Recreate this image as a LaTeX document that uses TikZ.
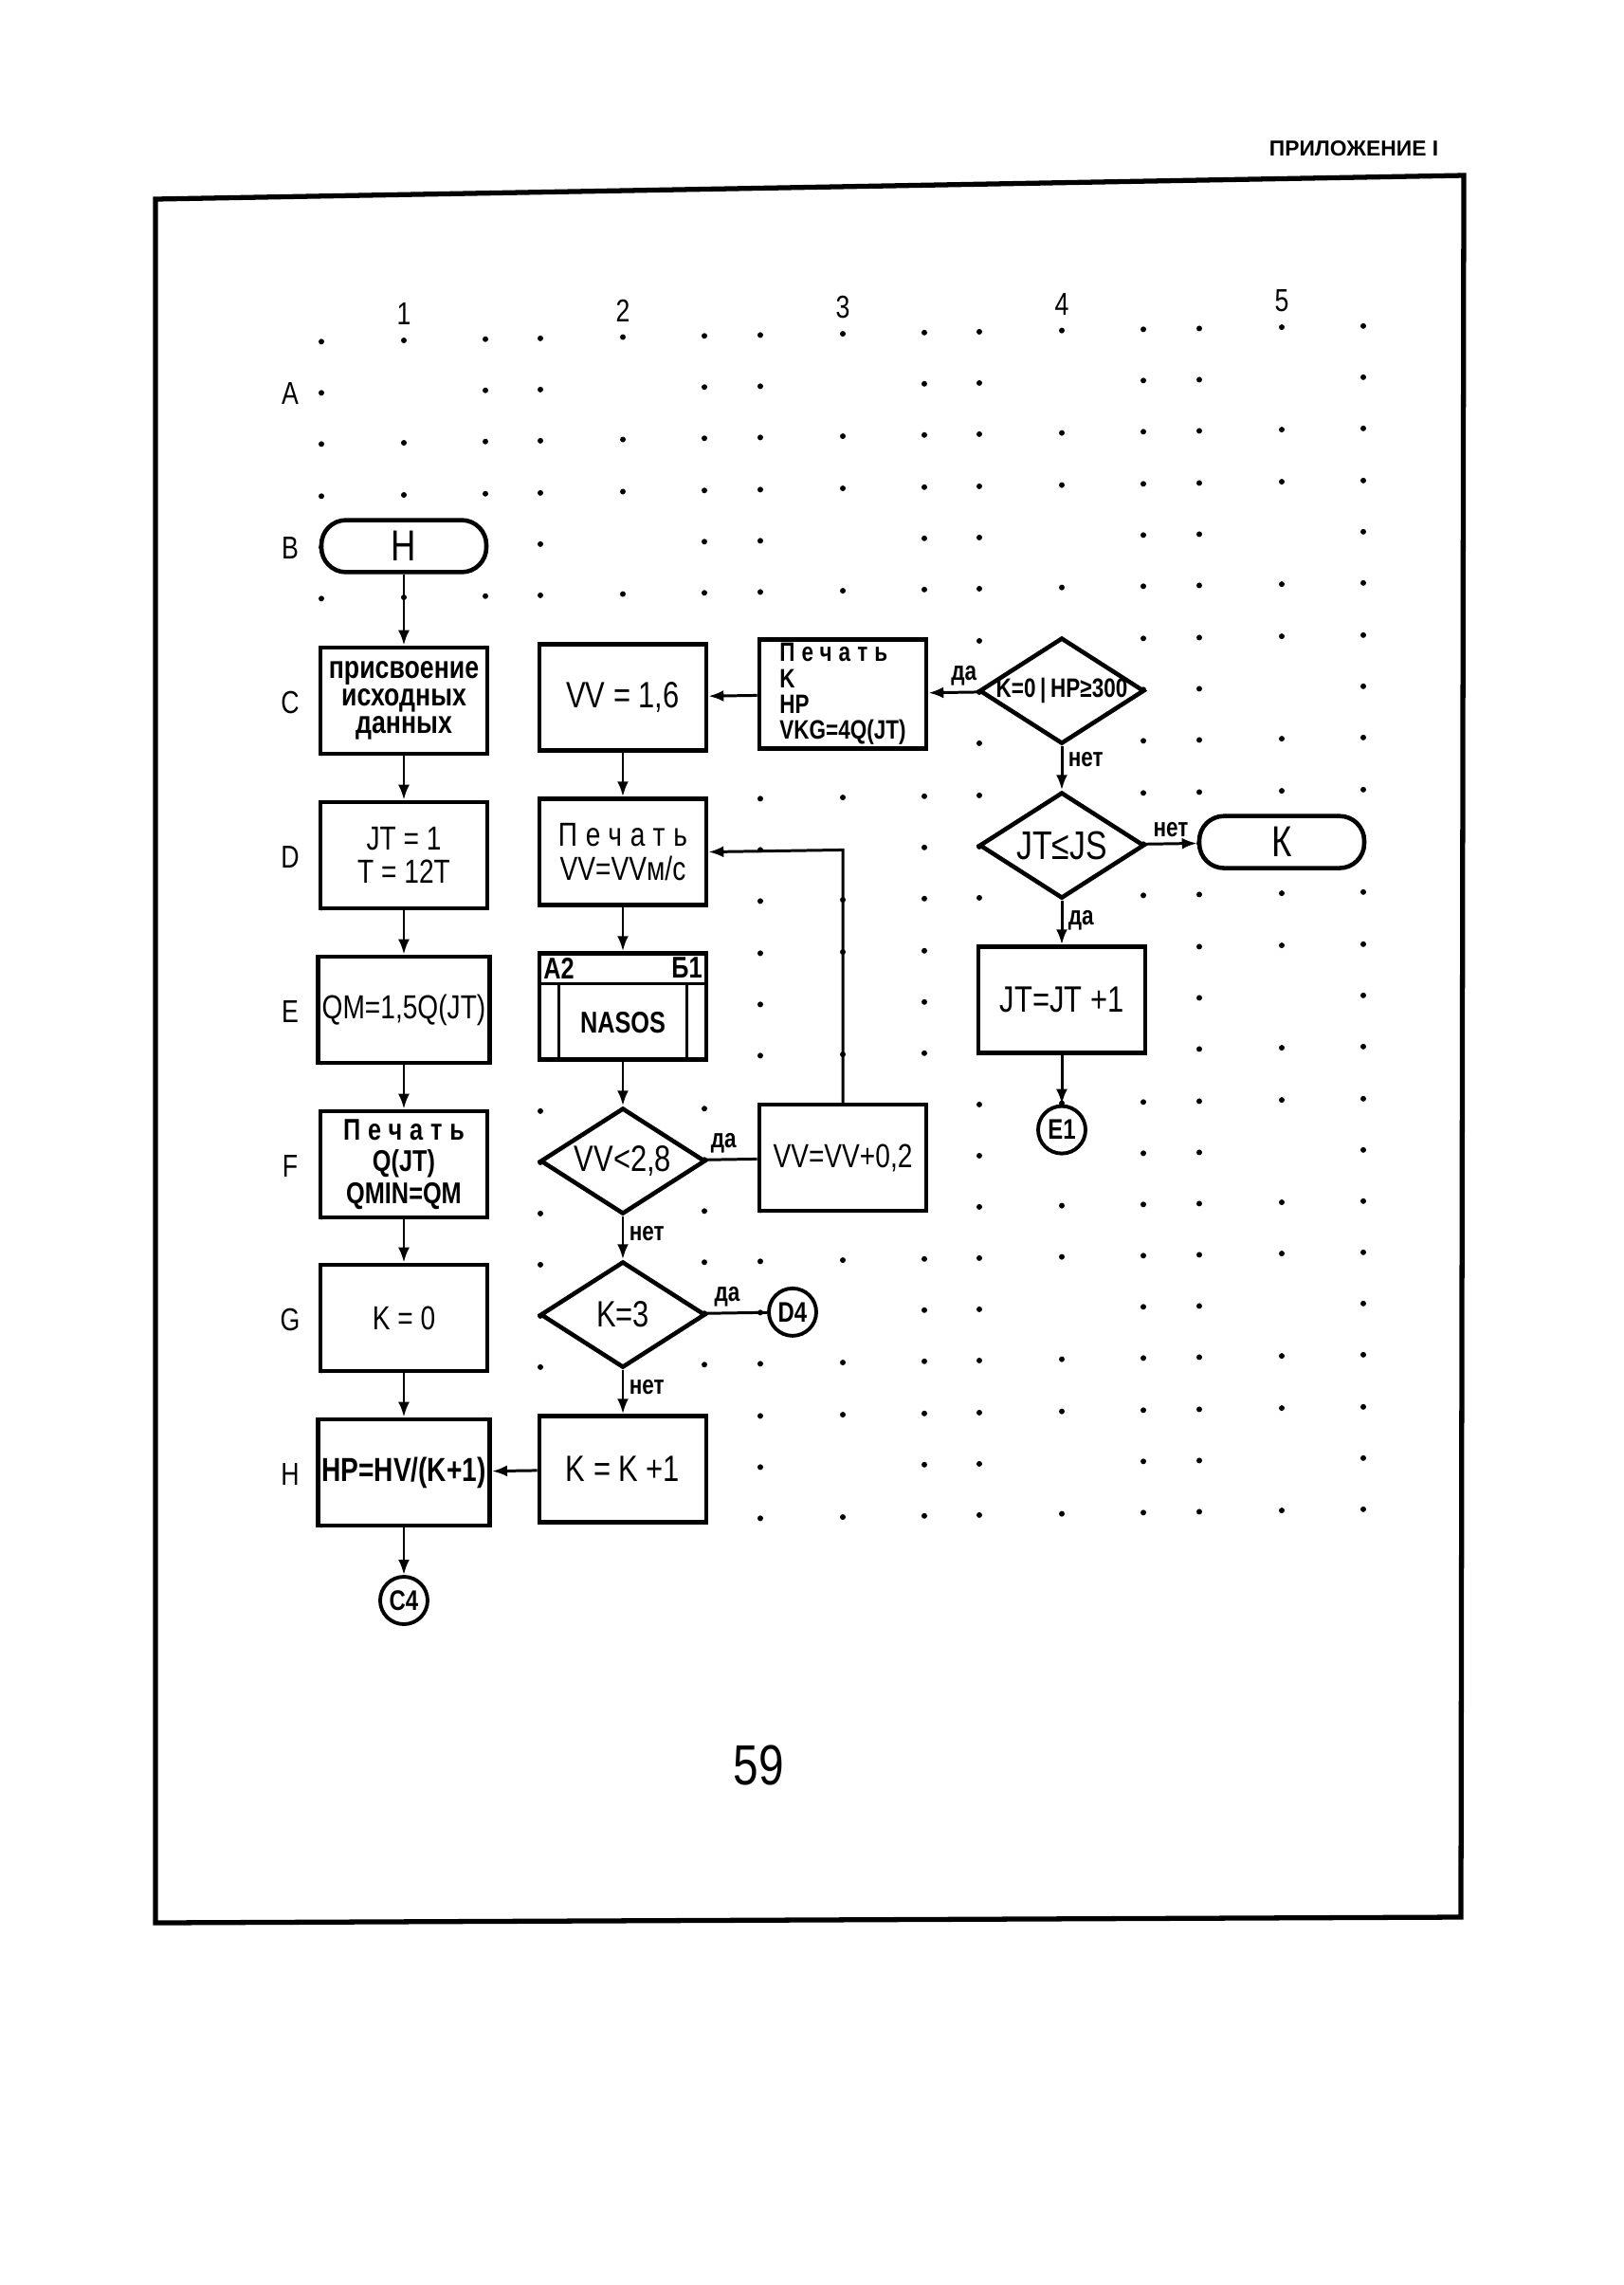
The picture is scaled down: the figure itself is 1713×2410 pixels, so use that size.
\documentclass[tikz,border=0pt]{standalone}
\usepackage{fontspec}
\setmainfont{Liberation Sans}[FakeStretch=0.8]
\newfontfamily\shapka{Liberation Sans}
\newfontfamily\razryadka{Liberation Sans}[FakeStretch=0.8, LetterSpace=25]
\usetikzlibrary{shapes.geometric, arrows.meta}

\begin{document}
\begin{tikzpicture}[x=0.1mm, y=-0.1mm,
    blok/.style={draw, rectangle, line width=1.3pt, fill=white, minimum width=17.6mm, minimum height=11.2mm, inner sep=0.4mm, align=center, font=\fontsize{10}{10}\selectfont},
    term/.style={draw, rectangle, rounded corners=2.6mm, line width=1.3pt, fill=white, minimum width=17.4mm, minimum height=5.2mm, font=\fontsize{13}{13}\selectfont},
    romb/.style={draw, diamond, line width=1.3pt, fill=white, minimum width=17.4mm, minimum height=11.2mm, inner sep=0pt, font=\fontsize{11}{11}\selectfont},
    krug/.style={draw, circle, line width=1.1pt, fill=white, minimum size=5mm, inner sep=0pt, font=\bfseries\fontsize{8.5}{8.5}\selectfont},
    svyaz/.style={line width=0.85pt, -{Latex[length=1.6mm, width=1.2mm]}},
    liniya/.style={line width=0.85pt},
    metka/.style={font=\bfseries\fontsize{8}{8}\selectfont, inner sep=1.5pt},
    nomer/.style={font=\fontsize{9.5}{9.5}\selectfont, inner sep=0pt}]
    \useasboundingbox (0,0) rectangle (1713,2410);

    % рамка листа
    \draw[line width=1.5pt] (164,210) -- (1544,185) -- (1541,2022) -- (164,2028) -- cycle;
    \node[font=\shapka\bfseries\fontsize{6.5}{6.5}\selectfont] (prilozh) at (1428,157) {ПРИЛОЖЕНИЕ I};
    \node[font=\fontsize{17}{17}\selectfont] (stranica) at (800,1862) {59};

    \begin{scope}[shift={(426,0)}, yslant=0.015, shift={(-426,0)}]
    % сетка точек
    \foreach \ry in {413,576,739,902,1065,1228,1390,1553}
      \foreach \sy in {-54,0,54}
        \foreach \cx in {426,657,889,1120,1352}
          \foreach \sx in {-87,0,86}
            {\pgfmathtruncatemacro\vid{(\sx!=0)||(\sy!=0)}
             \ifnum\vid=1 \fill (\cx+\sx,\ry+\sy) circle[radius=0.3mm];\fi}

    % номера столбцов и строк
    \foreach \cx/\n in {426/1,657/2,889/3,1120/4,1352/5}
      \node[nomer] (kol\n) at (\cx,331) {\n};
    \foreach \ry/\bukva in {413/A,576/B,739/C,902/D,1065/E,1228/F,1390/G,1553/H}
      \node[nomer] (str\bukva) at (306,\ry) {\bukva};

    % блоки
    \node[term] (nach) at (426,576) {Н};
    \node[blok, font=\bfseries\fontsize{9.5}{8.2}\selectfont] (prisv) at (426,739) {присвоение\\исходных\\данных};
    \node[blok] (jt1) at (426,902) {JT = 1\\T = 12T};
    \node[blok] (qm) at (426,1065) {QM=1,5Q(JT)};
    \node[blok, font=\bfseries\fontsize{9}{9.6}\selectfont] (pechQ) at (426,1228) {{\razryadka Печать}\\Q(JT)\\QMIN=QM};
    \node[blok] (k0) at (426,1390) {K = 0};
    \node[blok, font=\bfseries\fontsize{10}{10}\selectfont] (hp) at (426,1553) {HP=HV/(K+1)};
    \node[krug] (c4) at (426,1688) {C4};

    \node[blok, font=\fontsize{11}{11}\selectfont] (vv16) at (657,739) {VV = 1,6};
    \node[blok, font=\fontsize{10}{10.4}\selectfont] (pechVV) at (657,902) {{\razryadka Печать}\\VV=VVм/с};
    \node[blok] (nasos) at (657,1065) {};
    \node[romb] (vvmen) at (657,1228) {\makebox[0pt]{VV<2,8}};
    \node[romb] (k3) at (657,1390) {\makebox[0pt]{K=3}};
    \node[blok, font=\fontsize{11}{11}\selectfont] (kk1) at (657,1553) {K = K +1};

    \node[blok, align=left, font=\bfseries\fontsize{8}{7.8}\selectfont] (pechK) at (889,739) {{\razryadka Печать}\\K\\HP\\VKG=4Q(JT)};
    \node[blok] (vvinc) at (889,1228) {VV=VV+0,2};
    \node[krug] (d4) at (836,1390) {D4};

    \node[romb] (usl) at (1120,739) {\makebox[0pt]{\bfseries\fontsize{8}{8}\selectfont K=0\,|\,HP≥300}};
    \node[romb, font=\fontsize{12}{12}\selectfont] (jtjs) at (1120,902) {\makebox[0pt]{JT≤JS}};
    \node[blok, font=\fontsize{11}{11}\selectfont] (jtinc) at (1120,1065) {JT=JT +1};
    \node[krug] (e1) at (1120,1202) {E1};
    \node[term] (kon) at (1352,902) {К};

    % блок NASOS
    \draw[line width=1pt] ([yshift=-3.4mm]nasos.north west) -- ([yshift=-3.4mm]nasos.north east);
    \draw[line width=1pt] ([xshift=2.3mm, yshift=-3.4mm]nasos.north west) -- ([xshift=2.3mm]nasos.south west);
    \draw[line width=1pt] ([xshift=-2.3mm, yshift=-3.4mm]nasos.north east) -- ([xshift=-2.3mm]nasos.south east);
    \node[anchor=north west, inner sep=0.6mm, font=\bfseries\fontsize{9}{9}\selectfont] (nasA) at (nasos.north west) {А2};
    \node[anchor=north east, inner sep=0.6mm, font=\bfseries\fontsize{9}{9}\selectfont] (nasB) at (nasos.north east) {Б1};
    \node[font=\bfseries\fontsize{9}{9}\selectfont] (nasT) at ([yshift=-1.7mm]nasos.center) {NASOS};

    % связи
    \draw[svyaz] (nach) -- (prisv);
    \draw[svyaz] (prisv) -- (jt1);
    \draw[svyaz] (jt1) -- (qm);
    \draw[svyaz] (qm) -- (pechQ);
    \draw[svyaz] (pechQ) -- (k0);
    \draw[svyaz] (k0) -- (hp);
    \draw[svyaz] (hp) -- (c4);
    \draw[svyaz] (vv16) -- (pechVV);
    \draw[svyaz] (pechVV) -- (nasos);
    \draw[svyaz] (nasos) -- (vvmen);
    \draw[svyaz] (vvmen) -- node[metka, right, pos=0.4] (net1) {нет} (k3);
    \draw[svyaz] (k3) -- node[metka, right, pos=0.4] (net2) {нет} (kk1);
    \draw[svyaz] (kk1) -- (hp);
    \draw[liniya] (vvmen) -- node[metka, above, pos=0.35] (da1) {да} (vvinc);
    \draw[svyaz] (vvinc.north) |- (pechVV.east);
    \draw[liniya] (k3) -- node[metka, above, pos=0.35] (da2) {да} (d4);
    \draw[svyaz] (usl) -- node[metka, above, pos=0.3] (da3) {да} (pechK);
    \draw[svyaz] (pechK) -- (vv16);
    \draw[svyaz] (usl) -- node[metka, right, pos=0.3] (net3) {нет} (jtjs);
    \draw[svyaz] (jtjs) -- node[metka, above] (net4) {нет} (kon);
    \draw[svyaz] (jtjs) -- node[metka, right, pos=0.45] (da4) {да} (jtinc);
    \draw[svyaz] (jtinc) -- (e1);
    \end{scope}
\end{tikzpicture}
\end{document}
